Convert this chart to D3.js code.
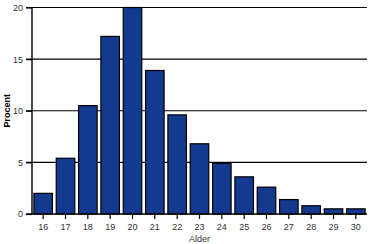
<!DOCTYPE html>
<html><head><meta charset="utf-8">
<script src="https://cdn.jsdelivr.net/npm/d3@7"></script>
<style>body{margin:0;background:#fff}svg{display:block}</style>
</head><body><svg id="c" width="369" height="244"></svg>
<script>
const categories = ["16","17","18","19","20","21","22","23","24","25","26","27","28","29","30"];
const values = [2.0,5.4,10.5,17.2,20.0,13.9,9.6,6.8,4.9,3.6,2.6,1.4,0.8,0.5,0.5];
const yTicks = [0,5,10,15,20];
const xTitle = "Alder", yTitle = "Procent";

const svg = d3.select("#c");
const m = {l:32, r:2, t:7.5, b:30};
const W = 369, H = 244;
const x = d3.scaleBand().domain(categories).range([m.l, W-m.r]).paddingInner(0.17).paddingOuter(0.085);
const y = d3.scaleLinear().domain([0,20]).range([H-m.b, m.t]);

// gridlines
svg.append("g").selectAll("line").data(yTicks.filter(d=>d>0)).join("line")
  .attr("x1", m.l-6).attr("x2", W-m.r).attr("y1", d=>y(d)).attr("y2", d=>y(d))
  .attr("stroke","#000").attr("stroke-width",1.2);

// bars
svg.append("g").selectAll("rect").data(values).join("rect")
  .attr("x",(d,i)=>x(categories[i])).attr("width",x.bandwidth())
  .attr("y",d=>y(d)).attr("height",d=>y(0)-y(d))
  .attr("fill","#133a8e").attr("stroke","#000").attr("stroke-width",1.2);

// y axis
const ya = svg.append("g").attr("transform",`translate(${m.l},0)`)
  .call(d3.axisLeft(y).tickValues(yTicks).tickSize(6).tickPadding(3));
ya.select(".domain").attr("stroke","#000").attr("stroke-width",1.4).attr("d",`M0,${y(20)}V${y(0)}`);
ya.selectAll(".tick line").attr("stroke","#000").attr("stroke-width",1.2);
ya.selectAll("text").attr("fill","#333").style("font-family","Liberation Sans, Arial, sans-serif").style("font-size","9px");

// x axis
const xa = svg.append("g").attr("transform",`translate(0,${y(0)})`)
  .call(d3.axisBottom(x).tickSize(5).tickPadding(5));
xa.select(".domain").attr("stroke","#000").attr("stroke-width",1.4).attr("d",`M${m.l-6},0H${W-m.r}`);
xa.selectAll(".tick line").attr("stroke","#000").attr("stroke-width",1.2);
xa.selectAll("text").attr("fill","#333").style("font-family","Liberation Sans, Arial, sans-serif").style("font-size","9px");

svg.append("text").attr("x",(m.l+W-m.r)/2).attr("y",242).attr("text-anchor","middle")
  .attr("fill","#333").style("font-family","Liberation Sans, Arial, sans-serif").style("font-size","9px").text(xTitle);
svg.append("text").attr("transform",`translate(10,${(y(0)+y(20))/2}) rotate(-90)`).attr("text-anchor","middle")
  .attr("fill","#000").style("font-family","Liberation Sans, Arial, sans-serif").style("font-size","9px").style("font-weight","bold").text(yTitle);
</script></body></html>
